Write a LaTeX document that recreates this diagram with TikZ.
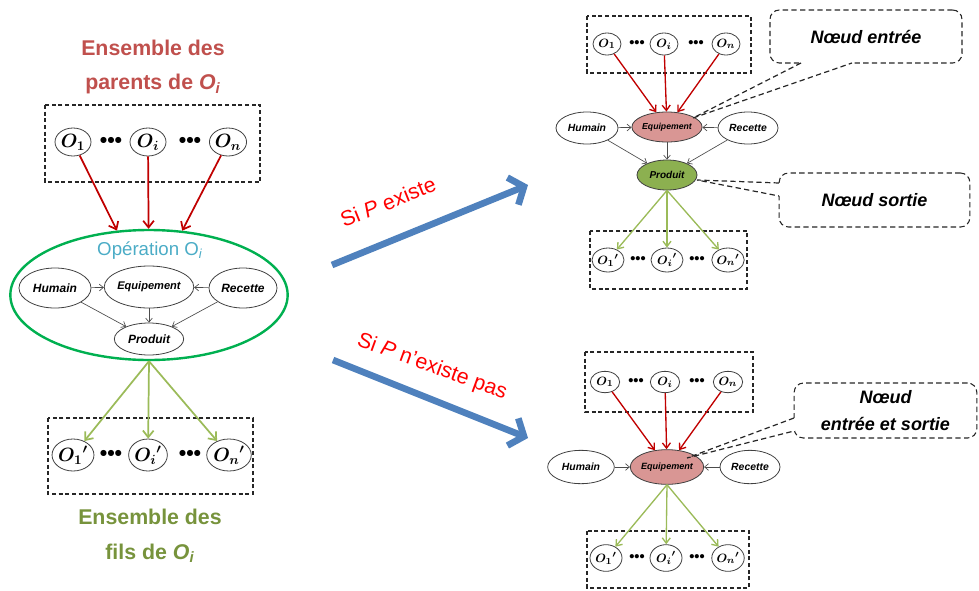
\documentclass[tikz,border=0pt]{standalone}
\usepackage{fontspec}
\setmainfont{Liberation Sans}
\usepackage{bm}
\usetikzlibrary{shapes.geometric,arrows.meta}
\definecolor{tred}{HTML}{C0504D}
\definecolor{tgreen}{HTML}{77933C}
\definecolor{tblue}{HTML}{4BACC6}
\definecolor{arred}{HTML}{C00000}
\definecolor{argreen}{HTML}{9BBB59}
\definecolor{bigblue}{HTML}{4F81BD}
\definecolor{eqfill}{HTML}{D99694}
\definecolor{prfill}{HTML}{8CB050}
\definecolor{opgreen}{HTML}{00B050}
\definecolor{siRed}{HTML}{FF0000}
\tikzset{
  ell/.style={ellipse, draw=black!75, line width=0.6pt, inner sep=0pt, font=\bfseries\itshape},
  bigO/.style={ell, minimum width=27pt, minimum height=21pt, font=\fontsize{14}{14}\selectfont\boldmath},
  smO/.style={ell, minimum width=21pt, minimum height=16.5pt, font=\fontsize{9.5}{9.5}\selectfont\boldmath},
  dbox/.style={draw=black!85, line width=0.8pt, dash pattern=on 3pt off 2pt},
  callout/.style={draw=black!85, line width=0.8pt, dash pattern=on 4pt off 2.5pt, rounded corners=7pt,
     font=\fontsize{13.5}{20}\bfseries\itshape\selectfont, align=center, inner sep=0pt},
  ptr/.style={draw=black!85, line width=0.9pt, dash pattern=on 4pt off 2.5pt},
  redarr/.style={draw=arred, line width=1.3pt, -{Straight Barb[length=5pt,width=8pt]}},
  grnarr/.style={draw=argreen, line width=1.3pt, -{Straight Barb[length=5pt,width=8pt]}},
  redsm/.style={draw=arred, line width=1pt, -{Straight Barb[length=4pt,width=6pt]}},
  grnsm/.style={draw=argreen, line width=1pt, -{Straight Barb[length=4pt,width=6pt]}},
  blk/.style={draw=black!70, line width=0.5pt, -{Straight Barb[length=3pt,width=5pt]}},
  bigarrow/.style={draw=bigblue, line width=5pt, -{Straight Barb[length=9pt,width=22pt]}},
  dotsbig/.style={font=\fontsize{16}{16}\bfseries\selectfont, inner sep=0pt},
  dotssm/.style={font=\fontsize{11}{11}\bfseries\selectfont, inner sep=0pt},
  titre/.style={font=\fontsize{16}{26}\bfseries\selectfont, align=center},
  sitext/.style={font=\fontsize{16}{16}\selectfont, text=siRed}
}
\begin{document}
\begin{tikzpicture}[x=0.75pt,y=-0.75pt]
\useasboundingbox (0,0) rectangle (979,590);

% ---------------- left part ----------------
\node[titre, text=tred] (tpar) at (153,67) {Ensemble des\\parents de \textit{O}\textsubscript{\textit{i}}};
\draw[dbox] (45,105) rectangle (260,182);
\node[bigO] (p1) at (73,142) {$\bm{O_1}$};
\node[bigO] (pi) at (148,142) {$\bm{O_i}$};
\node[bigO] (pn) at (228,142) {$\bm{O_n}$};
\node[dotsbig] (pd1) at (111,142) {\textbullet\textbullet\textbullet};
\node[dotsbig] (pd2) at (190,142) {\textbullet\textbullet\textbullet};

\node[ellipse, draw=opgreen, line width=1.8pt, minimum width=208pt, minimum height=97.5pt, inner sep=0pt] (op) at (149,295) {};
\node[font=\fontsize{14}{14}\selectfont, text=tblue] (optxt) at (150,251) {Opération O\textsubscript{\textit{i}}};
\node[ell, minimum width=54pt, minimum height=30pt, font=\fontsize{9}{9}\bfseries\itshape\selectfont] (hum) at (55,288) {Humain};
\node[ell, minimum width=51pt, minimum height=31.5pt, font=\fontsize{8.3}{8.3}\bfseries\itshape\selectfont] (eq) at (149,287) {Equipement};
\node[ell, minimum width=51pt, minimum height=30pt, font=\fontsize{9}{9}\bfseries\itshape\selectfont] (rec) at (243,288) {Recette};
\node[ell, minimum width=52pt, minimum height=24pt, font=\fontsize{9}{9}\bfseries\itshape\selectfont] (prod) at (149,339) {Produit};
\draw[blk] (hum) -- (eq);
\draw[blk] (rec) -- (eq);
\draw[blk] (eq) -- (prod);
\draw[blk] (hum) -- (prod);
\draw[blk] (rec) -- (prod);

\draw[redarr] (p1) -- (op);
\draw[redarr] (pi) -- (op);
\draw[redarr] (pn) -- (op);

\draw[dbox] (48,418) rectangle (253,494);
\node[bigO, minimum height=24pt] (c1) at (73,455) {${\bm{O_1}}'$};
\node[bigO, minimum height=24pt] (ci) at (148,455) {${\bm{O_i}}'$};
\node[bigO, minimum height=24pt] (cn) at (229,455) {${\bm{O_n}}'$};
\node[dotsbig] (cd1) at (111,455) {\textbullet\textbullet\textbullet};
\node[dotsbig] (cd2) at (190,455) {\textbullet\textbullet\textbullet};
\draw[grnarr] (op.south) -- (c1);
\draw[grnarr] (op.south) -- (ci);
\draw[grnarr] (op.south) -- (cn);
\node[titre, text=tgreen] (tfils) at (150,536) {Ensemble des\\fils de \textit{O}\textsubscript{\textit{i}}};

% ---------------- middle arrows ----------------
\coordinate (a1s) at (332,265);
\coordinate (a1e) at (528,185);
\draw[bigarrow] (a1s) -- (a1e);
\node[sitext, rotate=22] (si1) at (388,202) {Si \textit{P} existe};
\coordinate (a2s) at (333,360);
\coordinate (a2e) at (528,438);
\draw[bigarrow] (a2s) -- (a2e);
\node[sitext, rotate=-20] (si2) at (432,367) {Si \textit{P} n’existe pas};

% ---------------- right top ----------------
\draw[dbox] (587,16) rectangle (751,73);
\node[smO] (r1) at (607,44) {$\bm{O_1}$};
\node[smO] (ri) at (664,44) {$\bm{O_i}$};
\node[smO] (rn) at (726,44) {$\bm{O_n}$};
\node[dotssm] (rd1) at (637,44) {\textbullet\textbullet\textbullet};
\node[dotssm] (rd2) at (696,44) {\textbullet\textbullet\textbullet};
\node[ell, fill=eqfill, minimum width=43.5pt, minimum height=22.5pt, font=\fontsize{6.5}{6.5}\bfseries\itshape\selectfont] (req) at (667,127) {Equipement};
\node[ell, minimum width=46.5pt, minimum height=24pt, font=\fontsize{7.8}{7.8}\bfseries\itshape\selectfont] (rhum) at (587,128) {Humain};
\node[ell, minimum width=45pt, minimum height=24pt, font=\fontsize{7.8}{7.8}\bfseries\itshape\selectfont] (rrec) at (748,128) {Recette};
\node[ell, fill=prfill, minimum width=45pt, minimum height=22.5pt, font=\fontsize{7.5}{7.5}\bfseries\itshape\selectfont] (rprod) at (667,175) {Produit};
\draw[redsm] (r1) -- (req);
\draw[redsm] (ri) -- (req);
\draw[redsm] (rn) -- (req);
\draw[blk] (rhum) -- (req);
\draw[blk] (rrec) -- (req);
\draw[blk] (req) -- (rprod);
\draw[blk] (rhum) -- (rprod);
\draw[blk] (rrec) -- (rprod);
\draw[dbox] (590,231) rectangle (747,289);
\node[smO, minimum width=24pt, minimum height=18pt] (rc1) at (608,260) {${\bm{O_1}}'$};
\node[smO, minimum width=24pt, minimum height=18pt] (rci) at (667,260) {${\bm{O_i}}'$};
\node[smO, minimum width=24pt, minimum height=18pt] (rcn) at (728,260) {${\bm{O_n}}'$};
\node[dotssm] (rcd1) at (638,260) {\textbullet\textbullet\textbullet};
\node[dotssm] (rcd2) at (697,260) {\textbullet\textbullet\textbullet};
\draw[grnsm] (rprod.south) -- (rc1);
\draw[grnsm] (rprod.south) -- (rci);
\draw[grnsm] (rprod.south) -- (rcn);

% callout entree
\node[callout, minimum width=144pt, minimum height=39.75pt] (ce) at (866,36.5) {Nœud entrée};
\coordinate (ceA) at (801,63);
\coordinate (ceB) at (852,63);
\coordinate (ceT) at (693,118);
\draw[white, line width=1.6pt] (ceA) -- (ceB);
\draw[ptr] (ceA) -- (ceT) -- (ceB);

% callout sortie
\node[callout, minimum width=143pt, minimum height=40.5pt] (cs) at (874.5,200) {Nœud sortie};
\coordinate (csA) at (779,183);
\coordinate (csB) at (779,196);
\coordinate (csT) at (697,180);
\draw[white, line width=1.6pt] (csA) -- (csB);
\draw[ptr] (csA) -- (csT) -- (csB);

% ---------------- right bottom ----------------
\draw[dbox] (585,352) rectangle (753,412);
\node[smO, minimum width=22pt, minimum height=16pt] (s1) at (605,382) {$\bm{O_1}$};
\node[smO, minimum width=22pt, minimum height=16pt] (si) at (665,382) {$\bm{O_i}$};
\node[smO, minimum width=22pt, minimum height=16pt] (sn) at (728,382) {$\bm{O_n}$};
\node[dotssm] (sd1) at (636,382) {\textbullet\textbullet\textbullet};
\node[dotssm] (sd2) at (697,382) {\textbullet\textbullet\textbullet};
\node[ell, fill=eqfill, minimum width=47pt, minimum height=26pt, font=\fontsize{6.8}{6.8}\bfseries\itshape\selectfont] (seq) at (667,467) {Equipement};
\node[ell, minimum width=50pt, minimum height=25pt, font=\fontsize{7.8}{7.8}\bfseries\itshape\selectfont] (shum) at (581,467) {Humain};
\node[ell, minimum width=45pt, minimum height=25pt, font=\fontsize{7.8}{7.8}\bfseries\itshape\selectfont] (srec) at (750,467) {Recette};
\draw[redsm] (s1) -- (seq);
\draw[redsm] (si) -- (seq);
\draw[redsm] (sn) -- (seq);
\draw[blk] (shum) -- (seq);
\draw[blk] (srec) -- (seq);
\draw[dbox] (587,531) rectangle (749,588);
\node[smO, minimum width=24pt, minimum height=20pt] (sc1) at (606,558) {${\bm{O_1}}'$};
\node[smO, minimum width=24pt, minimum height=20pt] (sci) at (666,558) {${\bm{O_i}}'$};
\node[smO, minimum width=24pt, minimum height=20pt] (scn) at (728,558) {${\bm{O_n}}'$};
\node[dotssm] (scd1) at (637,558) {\textbullet\textbullet\textbullet};
\node[dotssm] (scd2) at (697,558) {\textbullet\textbullet\textbullet};
\draw[grnsm] (seq.south) -- (sc1);
\draw[grnsm] (seq.south) -- (sci);
\draw[grnsm] (seq.south) -- (scn);

% callout entree et sortie
\node[callout, minimum width=137pt, minimum height=41.25pt] (ces) at (885.5,410.5) {Nœud\\entrée et sortie};
\coordinate (cesA) at (794,418);
\coordinate (cesB) at (794,431);
\coordinate (cesT) at (687,458);
\draw[white, line width=1.6pt] (cesA) -- (cesB);
\draw[ptr] (cesA) -- (cesT) -- (cesB);
\end{tikzpicture}
\end{document}
